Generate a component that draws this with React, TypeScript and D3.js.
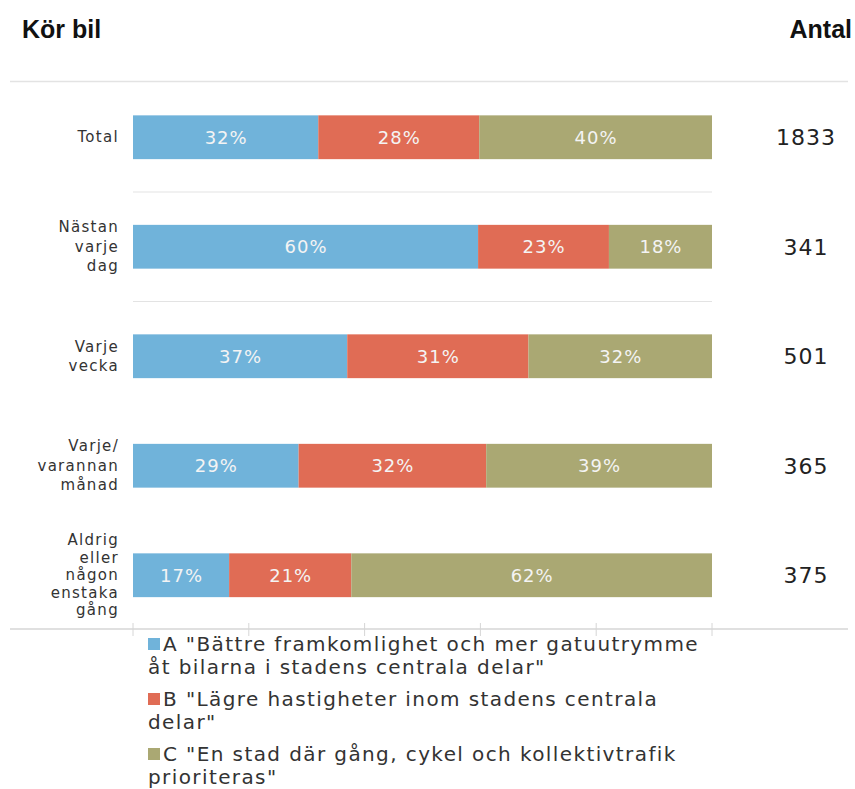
import React from "react";
import * as d3 from "d3";

const categories = ["Total", "Nästan varje dag", "Varje vecka", "Varje/ varannan månad", "Aldrig eller någon enstaka gång"];
const categoryLines = [["Total"], ["Nästan", "varje", "dag"], ["Varje", "vecka"], ["Varje/", "varannan", "månad"], ["Aldrig", "eller", "någon", "enstaka", "gång"]];
const seriesA = [32.0, 59.6, 37.0, 28.6, 16.6];
const seriesB = [27.8, 22.6, 31.3, 32.4, 21.1];
const seriesC = [40.2, 17.8, 31.7, 39.0, 62.3];
const antal = [1833, 341, 501, 365, 375];
const seriesNames = ["A", "B", "C"];
const legendLines = [
  ['A "Bättre framkomlighet och mer gatuutrymme', 'åt bilarna i stadens centrala delar"'],
  ['B "Lägre hastigheter inom stadens centrala', 'delar"'],
  ['C "En stad där gång, cykel och kollektivtrafik', 'prioriteras"'],
];
const colors = ["#70b3da", "#e06c55", "#aaa873"];

const FONT = "'DejaVu Sans', 'Open Sans', sans-serif";

export default function App() {
  const W = 855, H = 789;
  const x = d3.scaleLinear().domain([0, 100]).range([133, 712]);
  const y = d3.scaleBand<string>().domain(categories).range([82.5, 630]).paddingInner(0.6).paddingOuter(0.3);
  const series = [seriesA, seriesB, seriesC];
  const rows = categories.map((c, i) => {
    let acc = 0;
    return series.map((s, k) => {
      const x0 = acc;
      acc += s[i];
      return { k, x0, x1: acc, v: s[i] };
    });
  });
  const bw = y.bandwidth();
  const step = y.step();
  const ticks = x.ticks(5);

  return (
    <svg width={W} height={H} style={{ position: "absolute", left: 0, top: 0, background: "#fff" }} fontFamily={FONT}>
      <text x={22} y={38} fontSize={25} fontWeight="bold" fill="#111" fontFamily="'Liberation Sans', Arial, sans-serif">Kör bil</text>
      <text x={852} y={38} fontSize={25} fontWeight="bold" fill="#111" textAnchor="end" fontFamily="'Liberation Sans', Arial, sans-serif">Antal</text>
      <line x1={10} x2={848} y1={81.5} y2={81.5} stroke="#e3e3e3" strokeWidth={1.5} />
      {[0, 1].map((i) => {
        const yy = (y(categories[i]) as number) + bw + (step - bw) / 2;
        return <line key={i} x1={x(0)} x2={x(100)} y1={yy} y2={yy} stroke="#e3e3e3" strokeWidth={1.2} />;
      })}
      {categories.map((c, i) => {
        const y0 = y(c) as number;
        const cy = y0 + bw / 2;
        const lines = categoryLines[i];
        const lh = lines.length > 4 ? 17.5 : 19.5;
        return (
          <g key={c}>
            {rows[i].map((r) => (
              <g key={r.k}>
                <rect x={x(r.x0)} y={y0} width={x(r.x1) - x(r.x0)} height={bw} fill={colors[r.k]} />
                <text x={(x(r.x0) + x(r.x1)) / 2 + 0.5} y={cy + 6.5} textAnchor="middle" fontSize={18} fill="#f4f4f4" letterSpacing={1}>
                  {Math.round(r.v)}%
                </text>
              </g>
            ))}
            {lines.map((l, j) => (
              <text key={j} x={119} y={cy + (j - (lines.length - 1) / 2) * lh + 5} textAnchor="end" fontSize={15} fill="#333" letterSpacing={1.3}>
                {l}
              </text>
            ))}
            <text x={806} y={cy + 8} textAnchor="middle" fontSize={22} fill="#222" letterSpacing={1}>{antal[i]}</text>
          </g>
        );
      })}
      <line x1={10} x2={848} y1={629} y2={629} stroke="#d6d6d6" strokeWidth={1.5} />
      {ticks.map((t) => (
        <line key={t} x1={x(t)} x2={x(t)} y1={623} y2={636} stroke="#d6d6d6" strokeWidth={1} />
      ))}
      {seriesNames.map((s, k) => {
        const base = 651 + k * 55;
        return (
          <g key={s}>
            <rect x={148} y={base - 13} width={12} height={12} fill={colors[k]} />
            <text x={163} y={base} fontSize={20} fill="#333" letterSpacing={1.4}>{legendLines[k][0]}</text>
            <text x={148} y={base + 22.5} fontSize={20} fill="#333" letterSpacing={1.4}>{legendLines[k][1]}</text>
          </g>
        );
      })}
    </svg>
  );
}
